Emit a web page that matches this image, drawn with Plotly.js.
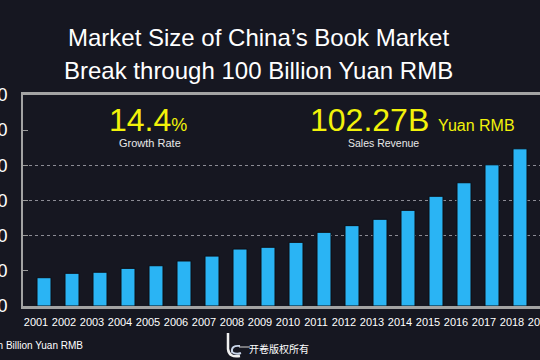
<!DOCTYPE html>
<html>
<head>
<meta charset="utf-8">
<script src="https://cdn.plot.ly/plotly-3.0.1.min.js"></script>
<style>
  html, body { margin: 0; padding: 0; background: #161721; overflow: hidden; }
  #chart { width: 600px; height: 360px; }
</style>
</head>
<body>
<div id="chart"></div>
<script>
// Data (billion Yuan RMB)
const years = [2001, 2002, 2003, 2004, 2005, 2006, 2007, 2008, 2009, 2010,
               2011, 2012, 2013, 2014, 2015, 2016, 2017, 2018, 2019];
const sales = [16.1, 18.6, 19.2, 21.4, 22.9, 25.6, 28.4, 32.4, 33.4, 36.2,
               41.9, 45.7, 49.3, 54.4, 62.4, 70.1, 80.3, 89.4, 102.27];
const yTicks = [0, 20, 40, 60, 80, 100, 120];
const gridTicks = [40, 60, 80];
const titleLines = ["Market Size of China’s Book Market", "Break through 100 Billion Yuan RMB"];
const growthRate = "14.4";
const revenue = "102.27B";

// layout geometry helpers (pixels -> paper)
const W = 600, H = 360, ML = 23, MR = 0, MT = 95, MB = 54;
const PW = W - ML - MR, PH = H - MT - MB;
const px = x => (x - ML) / PW;
const py = y => (H - MB - y) / PH;

const FONT = "Arial, 'Liberation Sans', sans-serif";
const YELLOW = "#f2f20a";

const traces = [
  {
    type: "bar",
    x: years,
    y: sales,
    marker: { color: "#2ab4f4", line: { color: "#0d0e14", width: 1 } },
    hoverinfo: "x+y"
  },
  {
    type: "scatter", mode: "markers",
    x: [], y: [], yaxis: "y2", showlegend: false, hoverinfo: "skip"
  }
];

const layout = {
  width: W, height: H,
  margin: { l: ML, r: MR, t: MT, b: MB, pad: 0 },
  paper_bgcolor: "#161721",
  plot_bgcolor: "#161721",
  showlegend: false,
  bargap: 0.5,
  font: { family: FONT, color: "#ffffff" },
  xaxis: {
    range: [2000.25, 2020.857],
    tickvals: years,
    ticktext: years.map(String),
    ticks: "",
    showgrid: false,
    zeroline: false,
    showline: true,
    linecolor: "#a3a3a3",
    linewidth: 3,
    mirror: true,
    tickfont: { size: 11, color: "#ffffff", family: FONT },
    ticklabelshift: -8,
    ticklabelstandoff: 4
  },
  yaxis: {
    range: [0, 120],
    tickvals: yTicks,
    ticks: "inside",
    ticklen: 5,
    tickwidth: 1,
    tickcolor: "#9a9a9a",
    showgrid: false,
    zeroline: false,
    showline: true,
    linecolor: "#a3a3a3",
    linewidth: 2,
    mirror: true,
    tickfont: { size: 18, color: "#ffffff", family: FONT },
    ticklabelstandoff: 10
  },
  yaxis2: {
    overlaying: "y",
    range: [0, 120],
    tickvals: gridTicks,
    showticklabels: false,
    ticks: "",
    showgrid: true,
    gridcolor: "#8c8c95",
    gridwidth: 1.5,
    griddash: "3px,3px",
    zeroline: false,
    showline: false,
    side: "left"
  },
  annotations: [
    { text: titleLines[0], xref: "paper", yref: "paper", x: px(258), y: py(37),
      xanchor: "center", yanchor: "middle", showarrow: false,
      font: { size: 24, color: "#ffffff", family: FONT } },
    { text: titleLines[1], xref: "paper", yref: "paper", x: px(258), y: py(70),
      xanchor: "center", yanchor: "middle", showarrow: false,
      font: { size: 24, color: "#ffffff", family: FONT } },
    { text: growthRate + "<span style='font-size:18px'>%</span>", xref: "paper", yref: "paper",
      x: px(148), y: py(120), xanchor: "center", yanchor: "middle", showarrow: false,
      font: { size: 32, color: YELLOW, family: FONT } },
    { text: "Growth Rate", xref: "paper", yref: "paper", x: px(150), y: py(143),
      xanchor: "center", yanchor: "middle", showarrow: false,
      font: { size: 11, color: "#e8e8e8", family: FONT } },
    { text: revenue + " <span style='font-size:16px'>Yuan RMB</span>", xref: "paper", yref: "paper",
      x: px(412), y: py(120), xanchor: "center", yanchor: "middle", showarrow: false,
      font: { size: 32, color: YELLOW, family: FONT } },
    { text: "Sales Revenue", xref: "paper", yref: "paper", x: px(383), y: py(143),
      xanchor: "center", yanchor: "middle", showarrow: false,
      font: { size: 10.5, color: "#e8e8e8", family: FONT } },
    { text: "Unit: in Billion Yuan RMB", xref: "paper", yref: "paper", x: px(85), y: py(345),
      xanchor: "right", yanchor: "middle", showarrow: false,
      font: { size: 10, color: "#ffffff", family: FONT } },
    { text: "开卷版权所有", xref: "paper", yref: "paper", x: px(279), y: py(348),
      xanchor: "center", yanchor: "middle", showarrow: false,
      font: { size: 10, color: "#ffffff", family: "'Noto Sans CJK SC', sans-serif" } }
  ],
  shapes: [
    { type: "path", xref: "paper", yref: "paper",
      path: `M ${px(228)} ${py(333)} L ${px(228)} ${py(349)} Q ${px(229)} ${py(358)} ${px(240)} ${py(356)}`,
      line: { color: "#f0f0f0", width: 2.5 } },
    { type: "path", xref: "paper", yref: "paper",
      path: `M ${px(240)} ${py(346)} Q ${px(231)} ${py(345)} ${px(232)} ${py(352)} Q ${px(236)} ${py(355)} ${px(241)} ${py(353)}`,
      line: { color: "#c8d4e8", width: 2 } },
    { type: "line", xref: "paper", yref: "paper",
      x0: px(239), x1: px(250), y0: py(347), y1: py(347),
      line: { color: "#d8d8d8", width: 1 } }
  ]
};

Plotly.newPlot("chart", traces, layout, { staticPlot: true, displayModeBar: false });
</script>
</body>
</html>
